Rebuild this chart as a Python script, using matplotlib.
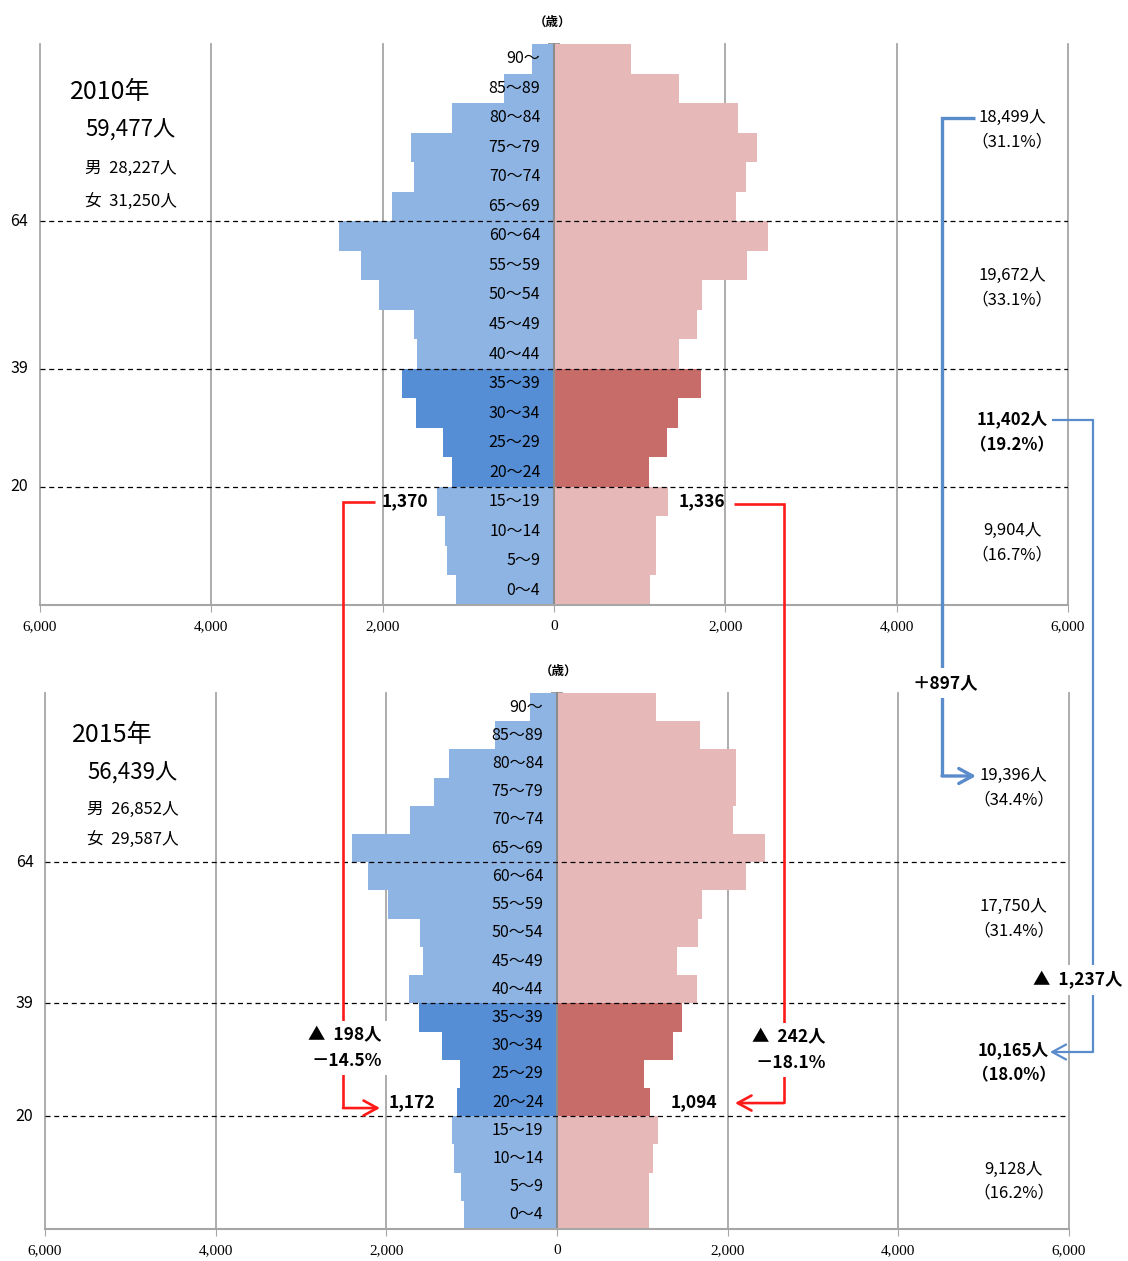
import numpy as np
import matplotlib.pyplot as plt
from matplotlib.ticker import FuncFormatter
from matplotlib import transforms

plt.rcParams['font.family'] = ['Noto Sans CJK JP', 'DejaVu Sans']

# ---- data (bottom row -> top row) ----
ages = ["0～4", "5～9", "10～14", "15～19", "20～24", "25～29", "30～34", "35～39",
        "40～44", "45～49", "50～54", "55～59", "60～64", "65～69", "70～74",
        "75～79", "80～84", "85～89", "90～"]

male_2010 = [1145, 1250, 1275, 1370, 1190, 1295, 1610, 1775, 1600, 1635,
             2040, 2250, 2510, 1890, 1635, 1670, 1190, 585, 260]
female_2010 = [1120, 1195, 1195, 1336, 1110, 1320, 1450, 1720, 1460, 1670,
               1730, 2255, 2500, 2130, 2245, 2375, 2150, 1460, 900]
male_2015 = [1095, 1125, 1210, 1235, 1172, 1140, 1350, 1620, 1740, 1575,
             1610, 1985, 2220, 2405, 1725, 1440, 1270, 730, 320]
female_2015 = [1080, 1080, 1125, 1185, 1094, 1025, 1365, 1460, 1635, 1410,
               1650, 1705, 2220, 2435, 2060, 2095, 2095, 1670, 1165]

years = ["2010年", "2015年"]
totals = ["59,477人", "56,439人"]
male_totals = ["28,227人", "26,852人"]
female_totals = ["31,250人", "29,587人"]

# age groups: 0-19, 20-39, 40-64, 65+
groups_2010 = ["9,904人\n（16.7%）", "11,402人\n（19.2%）", "19,672人\n（33.1%）", "18,499人\n（31.1%）"]
groups_2015 = ["9,128人\n（16.2%）", "10,165人\n（18.0%）", "17,750人\n（31.4%）", "19,396人\n（34.4%）"]

boundaries = [(3.5, "20"), (7.5, "39"), (12.5, "64")]

LIGHT_BLUE = "#8EB4E3"
DARK_BLUE = "#558ED5"
LIGHT_RED = "#E6B9B8"
DARK_RED = "#C76C69"
GRID = "#A6A6A6"
AXIS = "#8C8C8C"
LINE_BLUE = "#5A8BCB"
LINE_RED = "#FF1A1A"

W, H = 1128, 1261
fig = plt.figure(figsize=(W / 100, H / 100), dpi=100)


def draw_pyramid(ax, male, female, group_labels, group_pos):
    y = np.arange(len(ages))
    dark = (y >= 4) & (y <= 7)
    ax.barh(y, -np.array(male), height=1.0, color=np.where(dark, DARK_BLUE, LIGHT_BLUE),
            linewidth=0, zorder=2)
    ax.barh(y, female, height=1.0, color=np.where(dark, DARK_RED, LIGHT_RED),
            linewidth=0, zorder=2)
    ax.set_xlim(-6000, 6000)
    ax.set_ylim(-0.5, len(ages) - 0.5)
    ax.set_xticks(range(-6000, 6001, 2000))
    ax.xaxis.set_major_formatter(FuncFormatter(lambda v, p: f"{abs(int(v)):,}"))
    ax.tick_params(axis='x', direction='out', length=5, color=GRID, pad=6,
                   labelsize=11, labelfontfamily='Liberation Serif')
    for v in range(-6000, 6001, 2000):
        if v != 0:
            ax.axvline(v, color=GRID, lw=1.3, zorder=0.5, clip_on=False)
    for s in ['top', 'right']:
        ax.spines[s].set_visible(False)
    ax.spines['left'].set_position(('data', 0))
    ax.spines['left'].set_color(AXIS)
    ax.spines['left'].set_linewidth(1.5)
    ax.spines['bottom'].set_color(GRID)
    ax.spines['bottom'].set_linewidth(1.5)
    ax.set_yticks(np.arange(-0.5, len(ages), 1.0))
    ax.set_yticklabels([])
    ax.tick_params(axis='y', direction='inout', length=8, color=AXIS, width=1.2)
    for i, a in enumerate(ages):
        ax.text(-160, i, a, ha='right', va='center', fontsize=11.5, zorder=5)
    trans = transforms.blended_transform_factory(ax.transAxes, ax.transData)
    for b, lab in boundaries:
        ax.axhline(b, color='black', lw=0.9, ls=(0, (4, 3)), zorder=4)
        ax.text(-0.02, b, lab, transform=trans, ha='center', va='center', fontsize=11.5)
    for k, (r, lab) in enumerate(zip(group_pos, group_labels)):
        ax.text(5350, r, lab, ha='center', va='center', fontsize=12,
                fontweight='bold' if k == 1 else 'normal', linespacing=1.55)


ax_top = fig.add_axes([40 / W, 1 - 605 / H, 1028 / W, 561 / H])
ax_bot = fig.add_axes([45 / W, 1 - 1229 / H, 1024 / W, 536 / H])
draw_pyramid(ax_top, male_2010, female_2010, groups_2010, [1.6, 5.35, 10.25, 15.6])
draw_pyramid(ax_bot, male_2015, female_2015, groups_2015, [1.2, 5.4, 10.5, 15.15])

# values of the 15~19 (2010) and 20~24 (2015) rows
ax_top.text(-male_2010[3] - 100, 3, f"{male_2010[3]:,}", ha='right', va='center',
            fontsize=12.5, fontweight='bold')
ax_top.text(female_2010[3] + 120, 3, f"{female_2010[3]:,}", ha='left', va='center',
            fontsize=12.5, fontweight='bold')
ax_bot.text(-male_2015[4] - 260, 4, f"{male_2015[4]:,}", ha='right', va='center',
            fontsize=12.5, fontweight='bold')
ax_bot.text(female_2015[4] + 235, 4, f"{female_2015[4]:,}", ha='left', va='center',
            fontsize=12.5, fontweight='bold')

# ---- overlay in pixel coordinates ----
ov = fig.add_axes([0, 0, 1, 1])
ov.set_xlim(0, W)
ov.set_ylim(H, 0)
ov.axis('off')


def row_px(ax, row):
    return H - ax.transData.transform((0, row))[1]


# year summaries
for (x0, y0), yr, tot, m, f in zip([(70, 92), (72, 735)], years, totals, male_totals, female_totals):
    ov.text(x0, y0, yr, ha='left', va='center', fontsize=18)
    ov.text(x0 + 15, y0 + 38, tot, ha='left', va='center', fontsize=16)
    dy = 76 if yr.startswith("2010") else 74
    dy2 = 110 if yr.startswith("2010") else 105
    ov.text(x0 + 15, y0 + dy, f"男  {m}", ha='left', va='center', fontsize=12)
    ov.text(x0 + 15, y0 + dy2, f"女  {f}", ha='left', va='center', fontsize=12)

ov.text(553, 22, "（歳）", ha='center', va='center', fontsize=9, fontweight='bold')
ov.text(558, 671, "（歳）", ha='center', va='center', fontsize=9, fontweight='bold')


def connector(points, color, lw):
    xs, ys = zip(*points)
    ov.plot(xs[:-1], ys[:-1], color=color, lw=lw, solid_joinstyle='miter',
            solid_capstyle='butt')
    ov.annotate('', xy=points[-1], xytext=points[-2],
                arrowprops=dict(arrowstyle='->,head_length=0.55,head_width=0.3',
                                color=color, lw=lw, shrinkA=0, shrinkB=0,
                                mutation_scale=18))


y_1519 = row_px(ax_top, 3)
y_2024 = row_px(ax_bot, 4)
connector([(375, y_1519), (343, y_1519), (343, y_2024 + 6), (380, y_2024 + 6)], LINE_RED, 1.9)
connector([(734, y_1519 + 2), (784, y_1519 + 2), (784, y_2024 + 1), (735, y_2024 + 1)], LINE_RED, 1.9)
connector([(975, 118), (942, 118), (942, 776), (976, 776)], LINE_BLUE, 2.4)
connector([(1052, 420), (1093, 420), (1093, 1052), (1050, 1052)], LINE_BLUE, 1.6)

box = dict(facecolor='white', edgecolor='none', pad=4)
ov.text(945, 683, "＋897人", ha='center', va='center', fontsize=12.5, fontweight='bold', bbox=box)
ov.text(1078, 980, "▲  1,237人", ha='center', va='center', fontsize=12.5, fontweight='bold', bbox=box)
ov.text(382, 1048, "▲  198人\n－14.5%", ha='right', va='center', fontsize=12.5,
        fontweight='bold', multialignment='right', linespacing=1.5, bbox=box)
ov.text(826, 1050, "▲  242人\n－18.1%", ha='right', va='center', fontsize=12.5,
        fontweight='bold', multialignment='right', linespacing=1.5, bbox=box)

fig.savefig("out.png", dpi=100)
